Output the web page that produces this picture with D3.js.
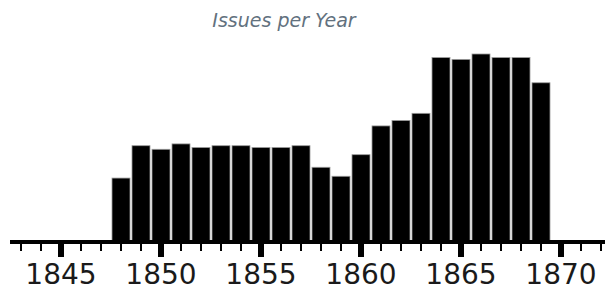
<!DOCTYPE html>
<html>
<head>
<meta charset="utf-8">
<script src="https://cdn.jsdelivr.net/npm/d3@7"></script>
<style>
  body { margin: 0; background: #fff; }
  svg { display: block; }
</style>
</head>
<body>
<div class="chart"></div>
<script>
// issues per year
const years = [1848, 1849, 1850, 1851, 1852, 1853, 1854, 1855, 1856, 1857, 1858,
               1859, 1860, 1861, 1862, 1863, 1864, 1865, 1866, 1867, 1868, 1869];
const issues = [35, 53, 51, 54, 52, 53, 53, 52, 52, 53, 41,
                36, 48, 64, 67, 71, 102, 101, 104, 102, 102, 88];
const majorTicks = [1845, 1850, 1855, 1860, 1865, 1870];
const minorTicks = d3.range(1843, 1873);

const width = 605, height = 290;
const baseY = 241;

const svg = d3.select(".chart")
    .append("svg")
    .attr("width", width)
    .attr("height", height);

const x = d3.scaleLinear()
    .domain([1845, 1870])
    .range([60, 560]);

const y = d3.scaleLinear()
    .domain([0, 104])
    .range([baseY, 54]);

// title
svg.append("text")
    .attr("x", 284)
    .attr("y", 27)
    .attr("text-anchor", "middle")
    .attr("font-family", "'DejaVu Sans', Verdana, sans-serif")
    .attr("font-style", "italic")
    .attr("font-size", 19)
    .attr("fill", "#62717e")
    .text("Issues per Year");

// bars
svg.append("g")
    .selectAll("rect")
    .data(years)
    .join("rect")
    .attr("x", (d) => x(d - 0.5) + 2)
    .attr("width", (d) => x(d + 0.5) - x(d - 0.5) - 2)
    .attr("y", (d, i) => y(issues[i]))
    .attr("height", (d, i) => baseY - y(issues[i]))
    .attr("fill", "black")
    .attr("stroke", "#9a9a9a")
    .attr("stroke-width", 0.8);

// axis
const axisG = svg.append("g");

axisG.append("line")
    .attr("x1", x(1842.5))
    .attr("x2", width)
    .attr("y1", 242)
    .attr("y2", 242)
    .attr("stroke", "black")
    .attr("stroke-width", 4);

axisG.selectAll(".minor")
    .data(minorTicks)
    .join("line")
    .attr("class", "minor")
    .attr("x1", d => x(d) + 1)
    .attr("x2", d => x(d) + 1)
    .attr("y1", 242)
    .attr("y2", 251)
    .attr("stroke", "black")
    .attr("stroke-width", 2);

axisG.selectAll(".major")
    .data(majorTicks)
    .join("line")
    .attr("class", "major")
    .attr("x1", d => x(d) + 1)
    .attr("x2", d => x(d) + 1)
    .attr("y1", 242)
    .attr("y2", 257)
    .attr("stroke", "black")
    .attr("stroke-width", 6);

axisG.selectAll(".label")
    .data(majorTicks)
    .join("text")
    .attr("class", "label")
    .attr("x", d => x(d) + 1)
    .attr("y", 284)
    .attr("text-anchor", "middle")
    .attr("font-family", "'DejaVu Sans', Verdana, sans-serif")
    .attr("font-size", 28)
    .attr("fill", "#1a1a1a")
    .text(d => d);
</script>
</body>
</html>
